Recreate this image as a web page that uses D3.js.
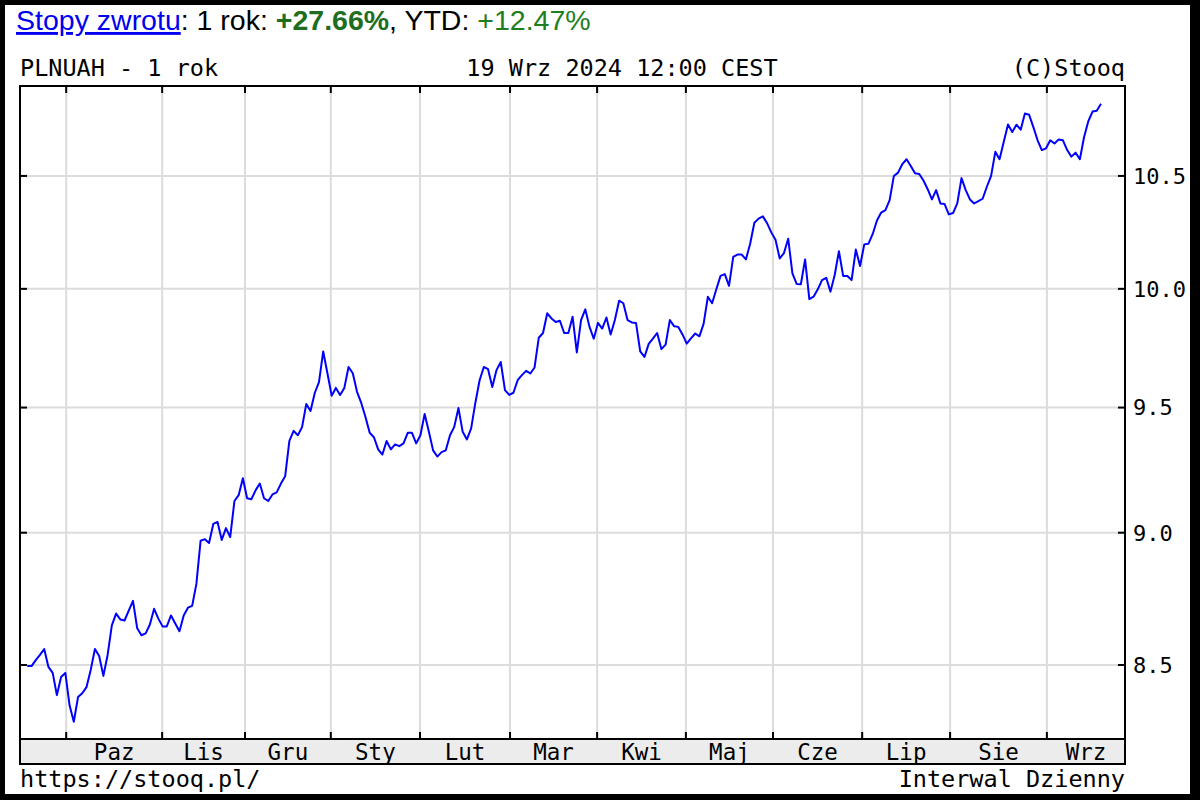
<!DOCTYPE html>
<html><head><meta charset="utf-8">
<script src="https://cdn.jsdelivr.net/npm/d3@7"></script>
<style>body{margin:0;background:#000}svg{display:block}</style>
</head><body><svg id="c" width="1200" height="800"></svg>
<script>
// PLNUAH daily close, 1 year
const values = [
8.496,8.496,8.518,8.537,8.559,8.493,8.471,8.390,8.456,8.471,
8.353,8.294,8.383,8.397,8.419,8.482,8.559,8.533,8.460,8.537,
8.647,8.691,8.669,8.665,8.702,8.739,8.636,8.610,8.617,8.650,
8.709,8.672,8.643,8.643,8.684,8.654,8.625,8.684,8.713,8.720,
8.803,8.969,8.975,8.960,9.034,9.042,8.972,9.018,8.983,9.124,
9.147,9.214,9.135,9.131,9.166,9.193,9.135,9.124,9.150,9.158,
9.193,9.222,9.364,9.405,9.387,9.420,9.515,9.486,9.560,9.605,
9.733,9.642,9.549,9.581,9.552,9.581,9.668,9.642,9.565,9.519,
9.461,9.397,9.379,9.330,9.309,9.364,9.330,9.350,9.343,9.354,
9.397,9.397,9.354,9.387,9.474,9.401,9.326,9.301,9.319,9.326,
9.387,9.421,9.498,9.401,9.370,9.415,9.520,9.613,9.668,9.659,
9.585,9.655,9.689,9.572,9.552,9.561,9.613,9.634,9.652,9.641,
9.666,9.791,9.811,9.895,9.873,9.858,9.863,9.811,9.811,9.880,
9.729,9.866,9.912,9.837,9.787,9.854,9.830,9.877,9.805,9.866,
9.949,9.938,9.866,9.856,9.854,9.733,9.710,9.765,9.787,9.811,
9.743,9.762,9.866,9.840,9.837,9.805,9.766,9.788,9.809,9.797,
9.851,9.966,9.938,9.998,10.056,10.064,10.013,10.139,10.149,10.149,
10.128,10.197,10.290,10.308,10.318,10.288,10.247,10.214,10.132,10.156,
10.219,10.067,10.021,10.020,10.128,9.956,9.966,9.998,10.038,10.048,
9.988,10.060,10.164,10.056,10.056,10.038,10.171,10.099,10.194,10.197,
10.240,10.300,10.335,10.346,10.391,10.500,10.515,10.554,10.576,10.545,
10.512,10.509,10.479,10.440,10.394,10.436,10.376,10.373,10.327,10.333,
10.376,10.490,10.436,10.394,10.376,10.386,10.397,10.451,10.500,10.610,
10.576,10.656,10.736,10.701,10.735,10.712,10.787,10.781,10.724,10.663,
10.618,10.626,10.663,10.648,10.667,10.663,10.618,10.588,10.606,10.576,
10.678,10.751,10.796,10.800,10.833
];
// month boundaries, in trading-day index units
const monthTicks = [9.2, 31.9, 51.5, 71.8, 92.9, 114.2, 134.8, 155.8, 176.4, 197.5, 218.3, 241.2];
const monthLabels = ["Paz","Lis","Gru","Sty","Lut","Mar","Kwi","Maj","Cze","Lip","Sie","Wrz"];
const yTicks = [8.5, 9.0, 9.5, 10.0, 10.5];
const yTickLabels = ["8.5","9.0","9.5","10.0","10.5"];

const svg = d3.select("#c");
const mono = "'DejaVu Sans Mono', monospace";
const sans = "'Liberation Sans', Arial, sans-serif";

const L = 20, R = 1125, T = 86, B = 739, BAND = 764;

svg.append("rect").attr("width",1200).attr("height",800).attr("fill","#000");
svg.append("rect").attr("x",5).attr("y",5).attr("width",1185).attr("height",789).attr("fill","#fff");

const x = d3.scaleLinear().domain([0, values.length-1]).range([27.3, 1101]);
const y = d3.scaleLog().domain([8.2325, 10.916]).range([B, T]);

// grid
const g = svg.append("g");
g.selectAll("line.vg").data(monthTicks).join("line")
  .attr("x1",d=>x(d)).attr("x2",d=>x(d)).attr("y1",T).attr("y2",B)
  .attr("stroke","#dcdcdc").attr("stroke-width",2);
g.selectAll("line.hg").data(yTicks).join("line")
  .attr("x1",L).attr("x2",R).attr("y1",d=>y(d)).attr("y2",d=>y(d))
  .attr("stroke","#dcdcdc").attr("stroke-width",2);

// band
svg.append("rect").attr("x",L).attr("y",B).attr("width",R-L).attr("height",BAND-B)
  .attr("fill","#ececec").attr("stroke","#000").attr("stroke-width",2);

// line
svg.append("path").datum(values)
  .attr("d", d3.line().x((d,i)=>x(i)).y(d=>y(d)))
  .attr("fill","none").attr("stroke","#0000ff").attr("stroke-width",2).attr("stroke-linejoin","round");

// plot border
svg.append("rect").attr("x",L).attr("y",T).attr("width",R-L).attr("height",B-T)
  .attr("fill","none").attr("stroke","#000").attr("stroke-width",2);

// ticks
const tk = svg.append("g").attr("stroke","#000").attr("stroke-width",2);
tk.selectAll("line.tt").data(monthTicks).join("line")
  .attr("x1",d=>x(d)).attr("x2",d=>x(d)).attr("y1",T).attr("y2",T+7);
tk.selectAll("line.tb").data(monthTicks).join("line")
  .attr("x1",d=>x(d)).attr("x2",d=>x(d)).attr("y1",B).attr("y2",B-7);
tk.selectAll("line.tl").data(yTicks).join("line")
  .attr("x1",L).attr("x2",L+7).attr("y1",d=>y(d)).attr("y2",d=>y(d));
tk.selectAll("line.tr").data(yTicks).join("line")
  .attr("x1",R-7).attr("x2",R).attr("y1",d=>y(d)).attr("y2",d=>y(d));

// y labels
svg.selectAll("text.yl").data(yTicks).join("text")
  .attr("x",R+8).attr("y",d=>y(d)).attr("dy","0.36em")
  .attr("font-family",mono).attr("font-size",22).text((d,i)=>yTickLabels[i]);

// month labels
const edges = monthTicks.map(x).concat([R]);
svg.selectAll("text.ml").data(monthLabels).join("text")
  .attr("x",(d,i)=>(edges[i]+edges[i+1])/2).attr("y",(B+BAND)/2).attr("dy","0.36em")
  .attr("text-anchor","middle").attr("font-family",mono).attr("font-size",22.5).text(d=>d);

// header texts
const fs = 23.5;
svg.append("text").attr("x",20).attr("y",76).attr("font-family",mono).attr("font-size",fs).text("PLNUAH - 1 rok");
svg.append("text").attr("x",622).attr("y",76).attr("text-anchor","middle").attr("font-family",mono).attr("font-size",fs).text("19 Wrz 2024 12:00 CEST");
svg.append("text").attr("x",R).attr("y",76).attr("text-anchor","end").attr("font-family",mono).attr("font-size",fs).text("(C)Stooq");
svg.append("text").attr("x",20).attr("y",787).attr("font-family",mono).attr("font-size",fs).text("https://stooq.pl/");
svg.append("text").attr("x",R).attr("y",787).attr("text-anchor","end").attr("font-family",mono).attr("font-size",fs).text("Interwal Dzienny");

const h = svg.append("text").attr("x",16).attr("y",30).attr("font-family",sans).attr("font-size",28.5);
h.append("tspan").attr("fill","#0000ee").attr("text-decoration","underline").text("Stopy zwrotu");
h.append("tspan").attr("fill","#000").text(": 1 rok: ");
h.append("tspan").attr("fill","#1e6e1e").attr("font-weight","bold").text("+27.66%");
h.append("tspan").attr("fill","#000").text(", YTD: ");
h.append("tspan").attr("fill","#1e7e1e").text("+12.47%");
</script></body></html>
